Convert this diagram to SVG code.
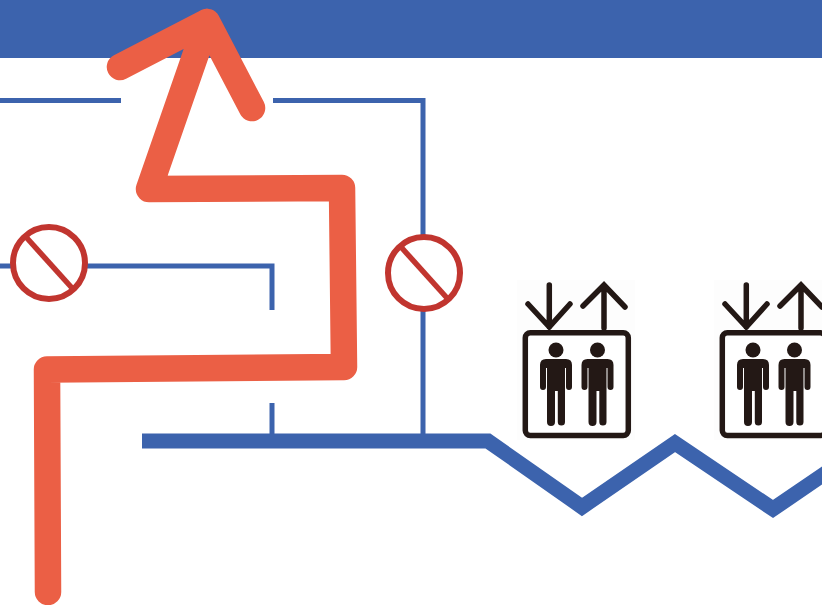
<svg xmlns="http://www.w3.org/2000/svg" width="822" height="605" viewBox="0 0 822 605">
<style>
.wall{fill:none;stroke:#3c63ad;stroke-width:5;stroke-linejoin:miter}
.floor{fill:none;stroke:#3c63ad;stroke-width:15;stroke-linejoin:miter}
.route{fill:none;stroke:#eb5f45;stroke-width:26.500;stroke-linecap:round;stroke-linejoin:round}
.ring{fill:#fff;stroke:#c1352f;stroke-width:6}
.bar{stroke:#c1352f;stroke-width:5.5}
.lift{fill:#fff;stroke:#231815;stroke-width:5.500}
.arrow{fill:none;stroke:#231815;stroke-width:5.500;stroke-linecap:round;stroke-linejoin:miter}
.ink{fill:#231815}
</style>
<defs>
<g id="person">
<circle class="ink" cx="0" cy="350" r="7.500"/>
<path class="ink" d="M-10,359H10Q16,359 16,365V387A3,3 0 0 1 10,387V368H9V422A3.6,3.600 0 0 1 1.800,422V391H-1V422A3.6,3.600 0 0 1 -9,422V368H-10V387A3,3 0 0 1 -16,387V365Q-16,359 -10,359Z"/>
</g>
<g id="lift-icon">
<rect x="517" y="280" width="118" height="160" fill="#fdfdfd"/>
<rect class="lift" x="525.300" y="332.800" width="103" height="102.700" rx="5"/>
<path class="arrow" d="M549.300,285V327M528,304L549.300,327L570,304"/>
<path class="arrow" d="M604,328V286M583,306L604,285L625,307"/>
<use href="#person" x="556"/>
<use href="#person" x="597.500"/>
</g>
</defs>
<rect id="header-band" x="0" y="0" width="822" height="58" fill="#3c63ad"/>
<g id="connectors">
<path class="wall" d="M0,100.500H121"/>
<path class="wall" d="M273,100.500H423V434"/>
<path class="wall" d="M0,266H272V310"/>
<path class="wall" d="M272,403V434"/>
<path class="floor" d="M142,441H488L582,507L675,443L773,509L830,470"/>
<path id="route" class="route" d="M48,592L47,369.500L344,367L342,188L149,189L207,22M120,67L207,22L252,108"/>
</g>
<g id="no-entry-1">
<circle class="ring" cx="49" cy="263" r="36"/>
<line class="bar" x1="26" y1="237" x2="72" y2="288"/>
</g>
<g id="no-entry-2">
<circle class="ring" cx="424" cy="273" r="36"/>
<line class="bar" x1="401" y1="247" x2="447" y2="298"/>
</g>
<g id="lift-1"><use href="#lift-icon"/></g>
<g id="lift-2"><use href="#lift-icon" x="197"/></g>
</svg>
